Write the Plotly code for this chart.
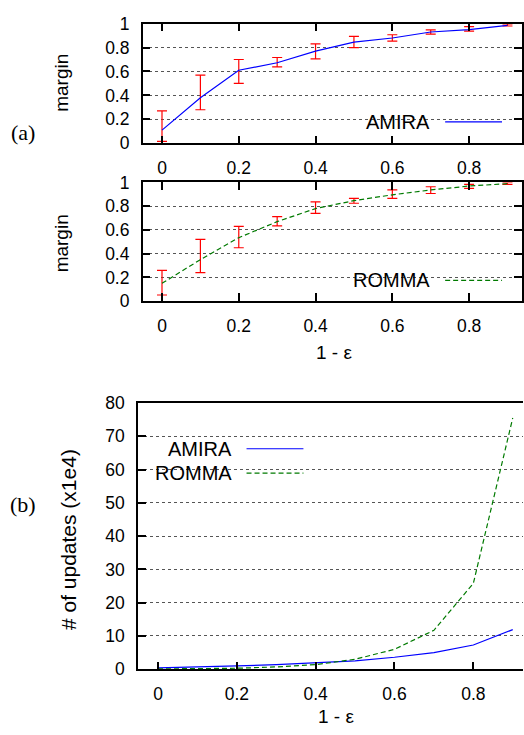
import plotly.graph_objects as go

# ---------------- data ----------------
x_vals = [0.0, 0.1, 0.2, 0.3, 0.4, 0.5, 0.6, 0.7, 0.8, 0.9]

amira_margin = [0.11, 0.38, 0.61, 0.673, 0.77, 0.845, 0.88, 0.93, 0.95, 0.985]
amira_err_hi = [0.27, 0.57, 0.70, 0.717, 0.83, 0.894, 0.907, 0.948, 0.975, 0.997]
amira_err_lo = [0.016, 0.28, 0.50, 0.638, 0.706, 0.80, 0.853, 0.913, 0.937, 0.98]

romma_margin = [0.15, 0.35, 0.535, 0.67, 0.78, 0.847, 0.896, 0.937, 0.97, 0.99]
romma_err_hi = [0.26, 0.52, 0.63, 0.713, 0.836, 0.866, 0.937, 0.964, 0.984, 1.0]
romma_err_lo = [0.052, 0.24, 0.45, 0.634, 0.74, 0.825, 0.866, 0.907, 0.951, 0.984]

amira_updates = [0.4, 0.6, 1.0, 1.4, 1.9, 2.5, 3.6, 5.0, 7.3, 11.9]
romma_updates = [0.1, 0.15, 0.3, 0.7, 1.4, 3.0, 6.0, 11.7, 25.8, 75.5]

x_tickvals = [0, 0.2, 0.4, 0.6, 0.8]
x_ticktext = ["0", "0.2", "0.4", "0.6", "0.8"]
m_tickvals = [0, 0.2, 0.4, 0.6, 0.8, 1]
m_ticktext = ["0", "0.2", "0.4", "0.6", "0.8", "1"]
u_tickvals = [0, 10, 20, 30, 40, 50, 60, 70, 80]
u_ticktext = ["0", "10", "20", "30", "40", "50", "60", "70", "80"]

# ---------------- style ----------------
W, H = 524, 735
FONT = "Liberation Sans, Arial, sans-serif"
SERIF = "Liberation Serif, Times New Roman, serif"
BLUE = "#0000ff"
GREEN = "#007a00"
RED = "#ff0000"


def px(x):
    return x / W


def py(y):
    return 1 - y / H


fig = go.Figure()

# error bars (panel 1)
fig.add_trace(go.Scatter(
    x=x_vals, y=amira_margin, mode="markers", marker=dict(size=1, color=RED, opacity=0),
    error_y=dict(type="data", symmetric=False,
                 array=[h - m for h, m in zip(amira_err_hi, amira_margin)],
                 arrayminus=[m - l for m, l in zip(amira_margin, amira_err_lo)],
                 color=RED, thickness=1.2, width=5),
    xaxis="x", yaxis="y", showlegend=False, hoverinfo="skip"))
fig.add_trace(go.Scatter(x=x_vals, y=amira_margin, mode="lines",
                         line=dict(color=BLUE, width=1.2), xaxis="x", yaxis="y",
                         showlegend=False))

# error bars (panel 2)
fig.add_trace(go.Scatter(
    x=x_vals, y=romma_margin, mode="markers", marker=dict(size=1, color=RED, opacity=0),
    error_y=dict(type="data", symmetric=False,
                 array=[h - m for h, m in zip(romma_err_hi, romma_margin)],
                 arrayminus=[m - l for m, l in zip(romma_margin, romma_err_lo)],
                 color=RED, thickness=1.2, width=5),
    xaxis="x2", yaxis="y2", showlegend=False, hoverinfo="skip"))
fig.add_trace(go.Scatter(x=x_vals, y=romma_margin, mode="lines",
                         line=dict(color=GREEN, width=1.2, dash="5px,3px"),
                         xaxis="x2", yaxis="y2", showlegend=False))

# panel 3
fig.add_trace(go.Scatter(x=x_vals, y=amira_updates, mode="lines",
                         line=dict(color=BLUE, width=1.2), xaxis="x3", yaxis="y3",
                         showlegend=False))
fig.add_trace(go.Scatter(x=x_vals, y=romma_updates, mode="lines",
                         line=dict(color=GREEN, width=1.2, dash="5px,3px"),
                         xaxis="x3", yaxis="y3", showlegend=False))

axis_common = dict(showline=True, linecolor="black", linewidth=1.5,
                   ticks="inside", ticklen=8, tickwidth=1.5, tickcolor="black",
                   tickfont=dict(family=FONT, size=17.5, color="black"),
                   zeroline=False)

xa = dict(axis_common, tickvals=x_tickvals, ticktext=x_ticktext, showgrid=False,
          mirror="ticks", ticklabelstandoff=8)
ya = dict(axis_common, tickvals=m_tickvals, ticktext=m_ticktext, showgrid=True,
          gridcolor="#555555", griddash="dot", gridwidth=1, mirror="ticks",
          range=[0, 1], ticklabelstandoff=8)

fig.update_layout(
    width=W, height=H,
    margin=dict(l=0, r=0, t=0, b=0),
    paper_bgcolor="white", plot_bgcolor="white",
    showlegend=False,
    xaxis=dict(xa, domain=[px(143), px(523)], range=[-0.0502, 0.9378], anchor="y"),
    yaxis=dict(ya, domain=[py(137), py(14)], anchor="x"),
    xaxis2=dict(xa, domain=[px(143), px(523)], range=[-0.0502, 0.9378], anchor="y2"),
    yaxis2=dict(ya, domain=[py(299.3), py(177.3)], anchor="x2"),
    xaxis3=dict(axis_common, tickvals=x_tickvals, ticktext=x_ticktext, showgrid=False,
                mirror=True, ticklabelstandoff=8,
                domain=[px(138.3), 1], range=[-0.0506, 0.926], anchor="y3"),
    yaxis3=dict(axis_common, tickvals=u_tickvals, ticktext=u_ticktext, showgrid=True,
                gridcolor="#555555", griddash="dot", gridwidth=1, mirror=False,
                ticklabelstandoff=8,
                domain=[py(677.7), py(404)], range=[0, 80], anchor="x3"),
)

shapes = []
annotations = []

# legend boxes covering grid
for (x0, y0, x1, y1) in [(365, 100, 512, 128), (352, 263, 512, 291), (150, 438, 316, 489)]:
    shapes.append(dict(type="rect", xref="paper", yref="paper",
                       x0=px(x0), x1=px(x1), y0=py(y1), y1=py(y0),
                       fillcolor="white", line=dict(width=0), layer="between"))

# legend entries: (text right edge, sample x0, sample x1, y, label, color, dash)
legend_entries = [
    (433, 446, 503, 115, "AMIRA", BLUE, "solid"),
    (433, 446, 503, 278, "ROMMA", GREEN, "5px,3px"),
    (234, 247, 304, 451, "AMIRA", BLUE, "solid"),
    (234, 247, 304, 476, "ROMMA", GREEN, "5px,3px"),
]
for tx, sx0, sx1, yy, label, col, dash in legend_entries:
    annotations.append(dict(text=label, xref="paper", yref="paper", x=px(tx), y=py(yy),
                            xanchor="right", yanchor="middle", showarrow=False,
                            font=dict(family=FONT, size=20, color="black")))
    shapes.append(dict(type="line", xref="paper", yref="paper",
                       x0=px(sx0), x1=px(sx1), y0=py(yy), y1=py(yy),
                       line=dict(color=col, width=1.2, dash=dash), layer="above"))

# axis titles
annotations += [
    dict(text="margin", x=px(62), y=py(75), textangle=-90),
    dict(text="margin", x=px(62), y=py(240), textangle=-90),
    dict(text="# of updates (x1e4)", x=px(68), y=py(544), textangle=-90, size=21),
    dict(text="1 - ε", x=px(335), y=py(352), textangle=0),
    dict(text="1 - ε", x=px(337), y=py(726), textangle=0),
]
for a in annotations[-5:]:
    size = a.pop("size", 19)
    a.update(xref="paper", yref="paper", xanchor="center", yanchor="middle",
             showarrow=False, font=dict(family=FONT, size=size, color="black"))

annotations += [
    dict(text="(a)", x=px(23), y=py(126), xref="paper", yref="paper", showarrow=False,
         xanchor="center", yanchor="middle", font=dict(family=SERIF, size=22, color="black")),
    dict(text="(b)", x=px(23), y=py(508), xref="paper", yref="paper", showarrow=False,
         xanchor="center", yanchor="middle", font=dict(family=SERIF, size=22, color="black")),
]

fig.update_layout(shapes=shapes, annotations=annotations)
fig.write_html("out.html",
               config={"displayModeBar": False},
               post_script="document.body.style.margin='0';document.body.style.overflow='hidden';")
